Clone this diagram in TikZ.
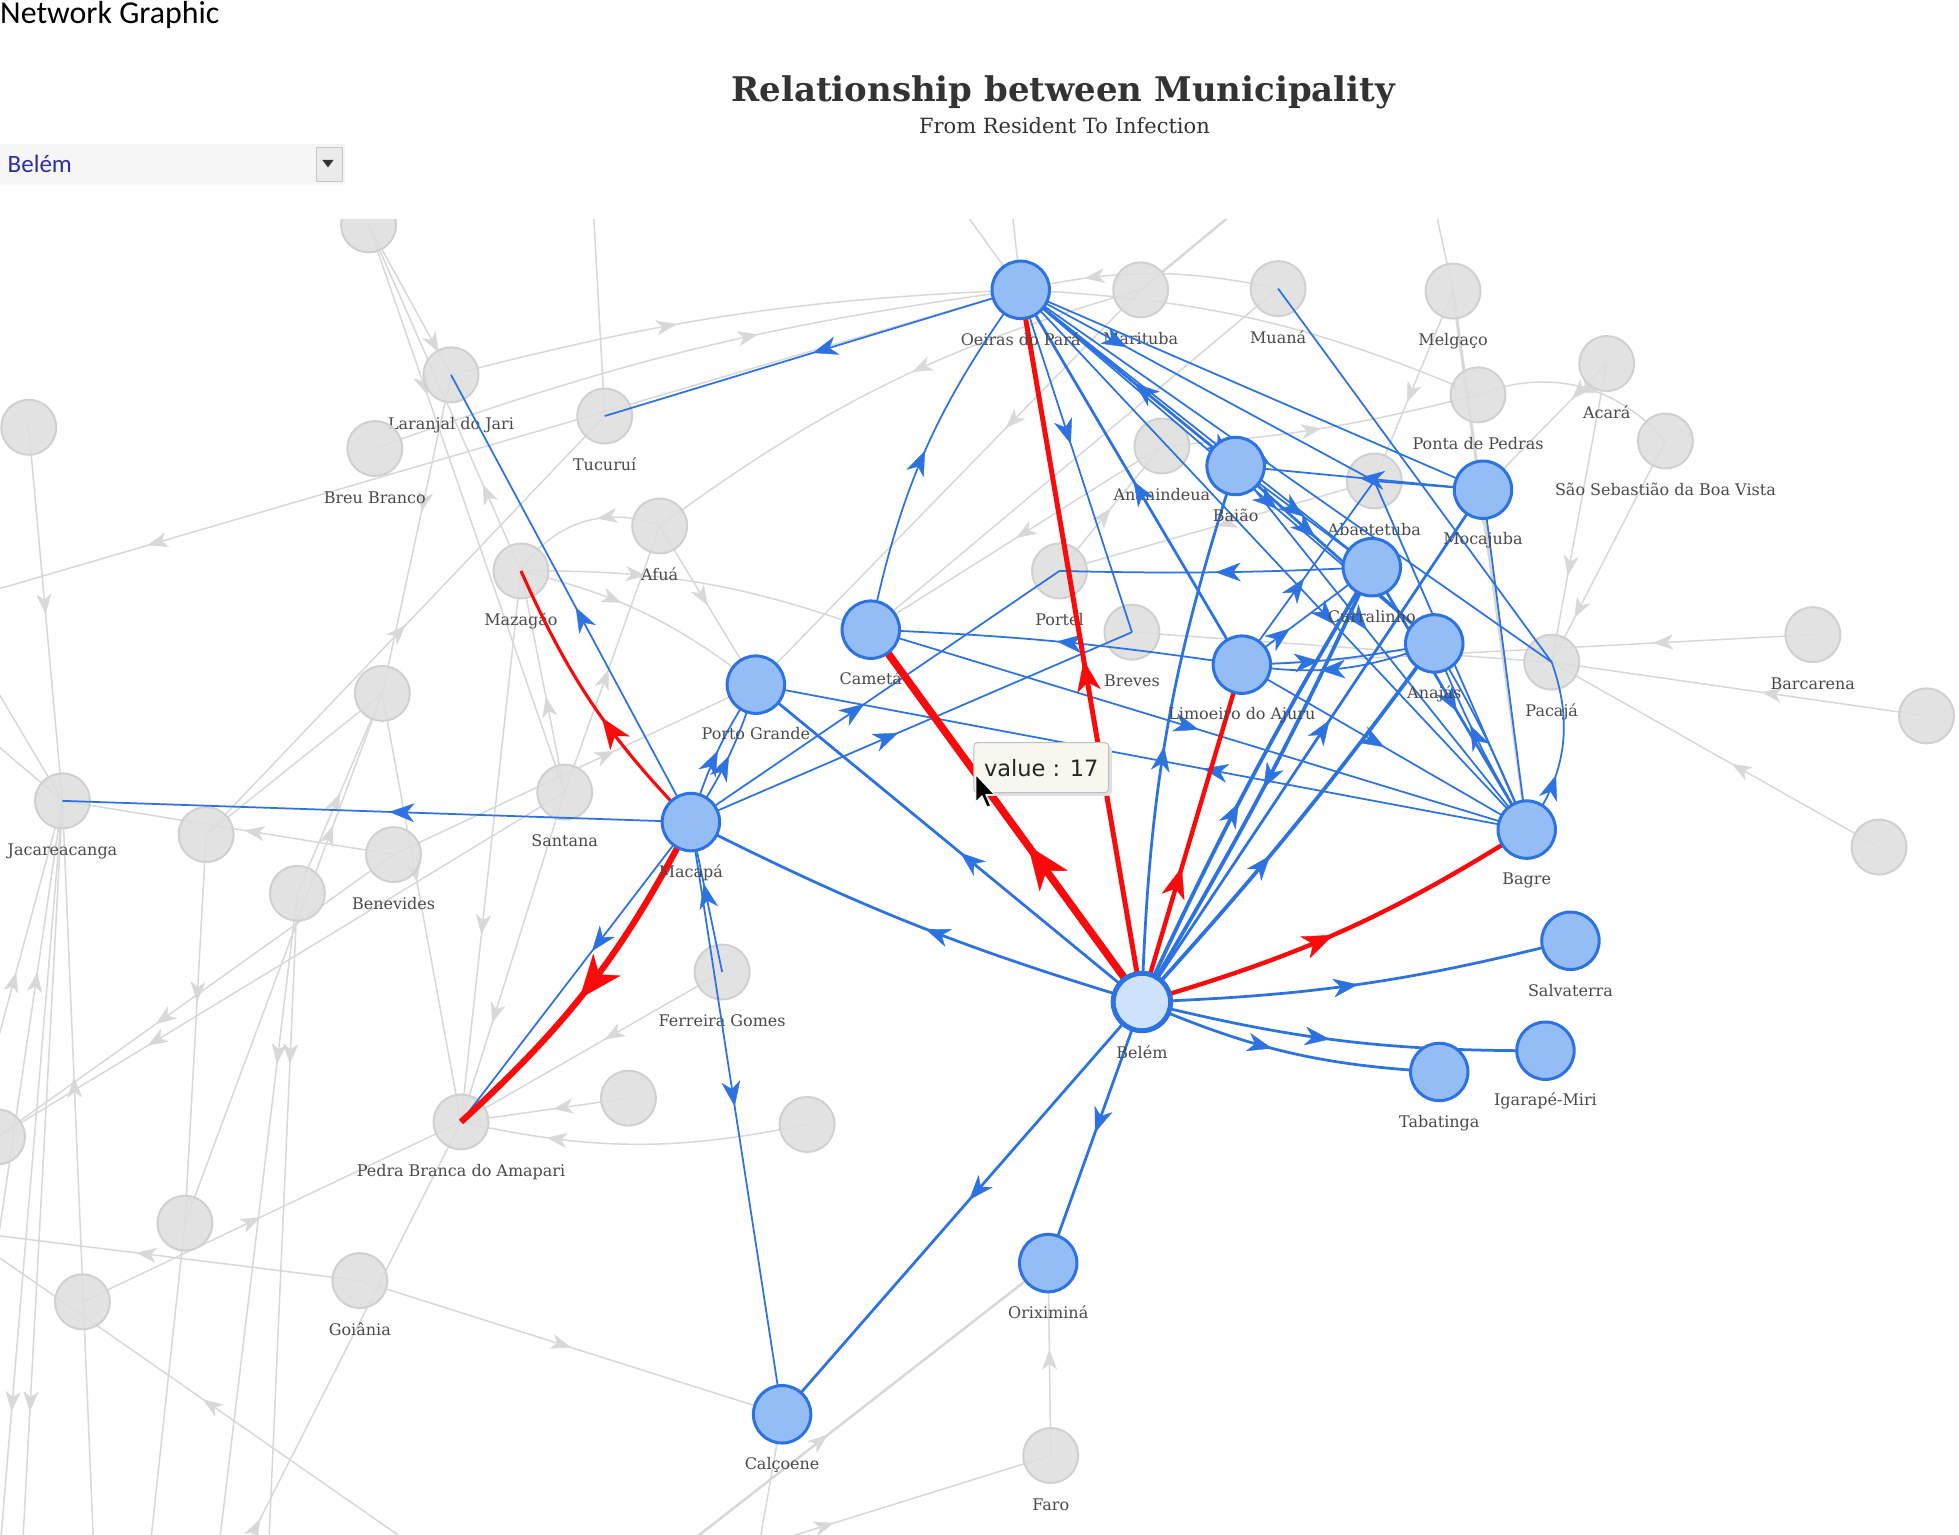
\documentclass[tikz,border=0pt]{standalone}
\usepackage{fontspec}
\setmainfont{DejaVu Serif}
\newfontfamily\hdrfont{Carlito}
\newfontfamily\tipfont{DejaVu Sans}
\usetikzlibrary{arrows.meta,decorations.markings}
\definecolor{eblue}{HTML}{2C73E1}
\definecolor{nblue}{HTML}{94BDF6}
\definecolor{hubfill}{HTML}{CFE2FB}
\definecolor{ered}{HTML}{FA0A0A}
\definecolor{egray}{HTML}{D8D8D8}
\definecolor{ngray}{HTML}{DEDEDE}
\definecolor{ngrayd}{HTML}{D0D0D0}
\definecolor{labc}{HTML}{4A4A4A}
\definecolor{titlec}{HTML}{333333}
\definecolor{ddtext}{HTML}{2E2E9E}
\definecolor{ddfill}{HTML}{F6F6F6}
\definecolor{tipfill}{HTML}{F8F7EE}
\pgfdeclarelayer{bgl}
\pgfdeclarelayer{gedges}
\pgfdeclarelayer{gnodes}
\pgfdeclarelayer{cedges}
\pgfsetlayers{bgl,gedges,gnodes,cedges,main}
\tikzset{
  gnode/.style={circle,minimum size=44pt,inner sep=0pt,fill=ngray,draw=ngrayd,line width=1.6pt,fill opacity=0.85},
  bnode/.style={circle,minimum size=46pt,inner sep=0pt,fill=nblue,draw=eblue,line width=2.4pt},
  hubnode/.style={circle,minimum size=46pt,inner sep=0pt,fill=hubfill,draw=eblue,line width=4pt},
  lab/.style={font=\fontsize{12.8}{14}\selectfont,text=labc,inner sep=0pt,anchor=base,text opacity=1,fill opacity=1,draw opacity=1},
  lbg/.style={label={[lab,label distance=21pt]below:#1}},
  lbb/.style={label={[lab,label distance=20pt]below:#1}},
  gline/.style={draw=egray,line width=1.2pt},
  garr/.style={postaction={decorate,decoration={markings,mark=at position #1 with {\arrow[egray]{Stealth[length=16pt,width=12pt,inset=4.5pt,line width=0.3pt]}}}}},
  garr/.default=0.5,
  bthin/.style={draw=eblue,line width=1.4pt},
  bmid/.style={draw=eblue,line width=2.2pt},
  bthick/.style={draw=eblue,line width=3pt},
  barr/.style={postaction={decorate,decoration={markings,mark=at position #1 with {\arrow[eblue]{Stealth[length=20pt,width=15pt,inset=6pt,line width=0.3pt]}}}}},
  barr/.default=0.5,
  rline/.style={draw=ered,line width=3.5pt},
  rarr/.style={postaction={decorate,decoration={markings,mark=at position #1 with {\arrow[ered]{Stealth[length=25pt,width=19pt,inset=7pt,line width=0.3pt]}}}}},
  rarr/.default=0.5,
  rarrbig/.style={postaction={decorate,decoration={markings,mark=at position #1 with {\arrow[ered]{Stealth[length=35pt,width=28pt,inset=10pt,line width=0.3pt]}}}}},
  rarrbig/.default=0.5,
}
\begin{document}
\begin{tikzpicture}[x=1pt,y=-1pt]
\useasboundingbox (0,0) rectangle (1568,1228);
\begin{pgfonlayer}{bgl}
\fill[white] (0,0) rectangle (1568,1228);
\end{pgfonlayer}

% ---------- header ----------
\node[anchor=base west,inner sep=0pt,font=\hdrfont\fontsize{25.5}{29}\selectfont] (hdr) at (0,19) {Network Graphic};
\node[anchor=base,inner sep=0pt,text=titlec,font=\bfseries\fontsize{27.2}{30}\selectfont] (title) at (851,81) {Relationship between Municipality};
\node[anchor=base,inner sep=0pt,text=titlec,font=\fontsize{16.8}{18}\selectfont] (subtitle) at (852,107) {From Resident To Infection};
\node[anchor=north west,inner sep=0pt,minimum width=276pt,minimum height=33pt,fill=ddfill] (dd) at (0,115) {};
\node[anchor=base west,inner sep=0pt,text=ddtext,font=\hdrfont\fontsize{20}{22}\selectfont] (ddtxt) at (6,138) {Belém};
\node[anchor=north west,inner sep=0pt,minimum width=21pt,minimum height=27pt,fill=black!8,draw=black!22,line width=0.8pt] (ddbtn) at (253,118) {};
\fill[black!80] (258,128) -- (267,128) -- (262.5,134) -- cycle;

% ---------- gray nodes ----------
\begin{pgfonlayer}{gnodes}
\begin{scope}
\clip (0,176) rectangle (1568,1228);
\node[gnode] (xtl) at (295,180) {};
\node[gnode] (xa) at (23,342) {};
\node[gnode,lbg={Laranjal do Jari}] (laranjal) at (361,300) {};
\node[gnode,lbg={Tucuruí}] (tucurui) at (484,333) {};
\node[gnode,lbg={Breu Branco}] (breu) at (300,359) {};
\node[gnode,lbg={Afuá}] (afua) at (528,421) {};
\node[gnode,lbg={Mazagão}] (mazagao) at (417,457) {};
\node[gnode] (xb) at (306,555) {};
\node[gnode,lbg={Jacareacanga}] (jacare) at (50,641) {};
\node[gnode,lbg={Santana}] (santana) at (452,634) {};
\node[gnode] (xc) at (165,668) {};
\node[gnode,lbg={Benevides}] (benevides) at (315,684) {};
\node[gnode] (xd) at (238,715) {};
\node[gnode,lbg={Ferreira Gomes}] (ferreira) at (578,778) {};
\node[gnode,lbg={Pedra Branca do Amapari}] (pedra) at (369,898) {};
\node[gnode] (xe) at (503,879) {};
\node[gnode] (xf) at (646,900) {};
\node[gnode] (xg) at (148,979) {};
\node[gnode,lbg={Goiânia}] (goiania) at (288,1025) {};
\node[gnode] (xh) at (66,1042) {};
\node[gnode] (xi) at (-2,910) {};
\node[gnode,lbg={Faro}] (faro) at (841,1165) {};
\node[gnode,lbg={Marituba}] (marituba) at (913,232) {};
\node[gnode,lbg={Muaná}] (muana) at (1023,231) {};
\node[gnode,lbg={Melgaço}] (melgaco) at (1163,233) {};
\node[gnode,lbg={Acará}] (acara) at (1286,291) {};
\node[gnode,lbg={Ponta de Pedras}] (ponta) at (1183,316) {};
\node[gnode,lbg={São Sebastião da Boa Vista}] (saoseb) at (1333,353) {};
\node[gnode,lbg={Ananindeua}] (ananindeua) at (930,357) {};
\node[gnode,lbg={Abaetetuba}] (abaete) at (1100,385) {};
\node[gnode,lbg={Portel}] (portel) at (848,457) {};
\node[gnode,lbg={Breves}] (breves) at (906,506) {};
\node[gnode,lbg={Pacajá}] (pacaja) at (1242,530) {};
\node[gnode,lbg={Barcarena}] (barcarena) at (1451,508) {};
\node[gnode] (xj) at (1542,573) {};
\node[gnode] (xk) at (1504,678) {};
\end{scope}
\end{pgfonlayer}

% ---------- highlighted nodes ----------
\node[bnode,lbb={Oeiras do Pará}] (oeiras) at (817,232) {};
\node[bnode,lbb={Baião}] (baiao) at (989,373) {};
\node[bnode,lbb={Mocajuba}] (mocajuba) at (1187,392) {};
\node[bnode,lbb={Curralinho}] (curralinho) at (1098,454) {};
\node[bnode,lbb={Anajás}] (anajas) at (1148,515) {};
\node[bnode,lbb={Limoeiro do Ajuru}] (limoeiro) at (994,532) {};
\node[bnode,lbb={Cametá}] (cameta) at (697,504) {};
\node[bnode,lbb={Porto Grande}] (porto) at (605,548) {};
\node[bnode,lbb={Macapá}] (macapa) at (553,658) {};
\node[bnode,lbb={Bagre}] (bagre) at (1222,664) {};
\node[bnode,lbb={Salvaterra}] (salvaterra) at (1257,753) {};
\node[bnode,lbb={Igarapé-Miri}] (igarape) at (1237,841) {};
\node[bnode,lbb={Tabatinga}] (tabatinga) at (1152,858) {};
\node[bnode,lbb={Oriximiná}] (oriximina) at (839,1011) {};
\node[bnode,lbb={Calçoene}] (calcoene) at (626,1132) {};
\node[hubnode,lbb={Belém}] (belem) at (914,802) {};

% off-screen ends
\coordinate (t1) at (765,160);
\coordinate (t2) at (808,150);
\coordinate (t3) at (1000,160);
\coordinate (t4) at (1145,150);
\coordinate (t5) at (474,150);
\coordinate (l1) at (-10,474);
\coordinate (l2) at (-10,540);
\coordinate (l3) at (-10,590);
\coordinate (l4) at (-10,988);
\coordinate (l5) at (-10,1000);
\coordinate (b1) at (-20,900);
\coordinate (b2) at (-10,1050);
\coordinate (b3) at (75,1240);
\coordinate (b4) at (335,1240);
\coordinate (b5) at (0,1240);
\coordinate (b6) at (18,1240);
\coordinate (b8) at (196,1240);
\coordinate (b9) at (175,1240);
\coordinate (b10) at (215,1240);
\coordinate (b11) at (545,1240);
\coordinate (b12) at (600,1240);
\coordinate (b13) at (607,1240);
\coordinate (b14) at (120,1240);

% ---------- gray edges ----------
\begin{pgfonlayer}{gedges}
\begin{scope}
\clip (0,176) rectangle (1568,1228);
\draw[gline] (t1) -- (oeiras.center);
\draw[gline] (t2) -- (oeiras.center);
\draw[gline,line width=2pt] (t3) -- (marituba.center);
\draw[gline,garr=0.45] (marituba.center) to[bend right=10] (afua.center);
\draw[gline,garr=0.2] (t4) -- (melgaco.center);
\draw[gline] (t5) -- (tucurui.center);
\draw[gline,garr=0.85] (xtl.center) -- (laranjal.center);
\draw[gline,garr=0.3] (xtl.center) -- (santana.center);
\draw[gline,garr=0.25] (mazagao.center) -- (xtl.center);
\draw[gline,garr=0.4] (laranjal.center) to[bend left=6] (oeiras.center);
\draw[gline,garr=0.6] (breu.center) to[bend left=6] (oeiras.center);
\draw[gline,garr=0.845] (oeiras.center) -- (l1);
\draw[gline,garr=0.5] (xa.center) -- (jacare.center);
\draw[gline] (jacare.center) -- (l2);
\draw[gline] (jacare.center) -- (l3);
\draw[gline,garr=0.47] (b1) -- (jacare.center);
\draw[gline,garr=0.665] (b2) -- (jacare.center);
\draw[gline,garr=0.63] (b3) -- (jacare.center);
\draw[gline,garr=0.816] (jacare.center) -- (b5);
\draw[gline,garr=0.816] (jacare.center) -- (b6);
\draw[gline,garr=0.45] (benevides.center) -- (jacare.center);
\draw[gline] (xc.center) -- (xb.center);
\draw[gline,garr=0.43] (xc.center) -- (xg.center);
\draw[gline,garr=0.5] (xc.center) -- (tucurui.center);
\draw[gline,garr=0.5] (xd.center) -- (xb.center);
\draw[gline,garr=0.75] (xg.center) -- (xb.center);
\draw[gline,garr=0.61] (benevides.center) -- (porto.center);
\draw[gline,garr=0.44] (xb.center) -- (pedra.center);
\draw[gline,garr=0.7] (santana.center) -- (pedra.center);
\draw[gline,garr=0.66] (mazagao.center) -- (pedra.center);
\draw[gline,garr=0.45] (ferreira.center) -- (pedra.center);
\draw[gline,garr=0.45] (xe.center) -- (pedra.center);
\draw[gline,garr=0.75] (xf.center) to[bend left=12] (pedra.center);
\draw[gline,garr=0.47] (xh.center) -- (pedra.center);
\draw[gline,garr=0.43] (santana.center) -- (mazagao.center);
\draw[gline,garr=0.46] (santana.center) -- (afua.center);
\draw[gline,garr=0.735] (santana.center) -- (xi.center);
\draw[gline,garr=0.6] (benevides.center) -- (xi.center);
\draw[gline,garr=0.26] (xd.center) -- (b9);
\draw[gline,garr=0.26] (xd.center) -- (b10);
\draw[gline,garr=0.4] (afua.center) to[bend right=40] (mazagao.center);
\draw[gline,garr=0.4] (mazagao.center) to[bend left=12] (porto.center);
\draw[gline,garr=0.35] (mazagao.center) to[bend left=10] (cameta.center);
\draw[gline,garr=0.5] (afua.center) -- (porto.center);
\draw[gline,garr=0.43] (laranjal.center) -- (xb.center);
\draw[gline,garr=0.35] (marituba.center) -- (porto.center);
\draw[gline,garr=0.5] (ananindeua.center) -- (cameta.center);
\draw[gline,garr=0.5] (portel.center) -- (ananindeua.center);
\draw[gline,garr=0.5] (ananindeua.center) to[bend right=5] (ponta.center);
\draw[gline] (cameta.center) -- (muana.center);
\draw[gline,garr=0.75] (muana.center) to[bend right=12] (oeiras.center);
\draw[gline] (oeiras.center) to[bend left=10] (ponta.center);
\draw[gline,garr=0.5] (abaete.center) -- (portel.center);
\draw[gline] (abaete.center) -- (bagre.center);
\draw[gline,line width=2.5pt,garr=0.44] (melgaco.center) -- (bagre.center);
\draw[gline,garr=0.585] (melgaco.center) -- (abaete.center);
\draw[gline,garr=0.6] (ponta.center) to[bend left=35] (saoseb.center);
\draw[gline,garr=0.71] (acara.center) -- (pacaja.center);
\draw[gline,garr=0.28] (acara.center) -- (mocajuba.center);
\draw[gline,garr=0.8] (saoseb.center) -- (pacaja.center);
\draw[gline,garr=0.28] (barcarena.center) -- (limoeiro.center);
\draw[gline,garr=0.44] (xj.center) -- (pacaja.center);
\draw[gline,garr=0.45] (xk.center) -- (pacaja.center);
\draw[gline] (pacaja.center) -- (breves.center);
\draw[gline,garr=0.5] (goiania.center) -- (calcoene.center);
\draw[gline,garr=0.6] (goiania.center) -- (l4);
\draw[gline,garr=0.5] (b4) -- (l5);
\draw[gline,garr=0.07] (b8) -- (pedra.center);
\draw[gline,line width=2pt,garr=0.4] (b11) -- (oriximina.center);
\draw[gline,garr=0.55] (faro.center) -- (oriximina.center);
\draw[gline,garr=0.28] (b12) -- (faro.center);
\draw[gline] (calcoene.center) -- (b13);
\draw[gline] (xg.center) -- (b14);
\end{scope}
\end{pgfonlayer}

% ---------- highlighted edges ----------
\begin{pgfonlayer}{cedges}
% from Belem
\draw[bmid,barr=0.47] (belem.center) to[bend left=5] (macapa.center);
\draw[bmid,barr=0.47] (belem.center) -- (porto.center);
\draw[bmid,barr=0.48] (belem.center) -- (calcoene.center);
\draw[bmid,barr=0.5] (belem.center) -- (oriximina.center);
\draw[bmid,barr=0.5] (belem.center) to[bend right=6] (salvaterra.center);
\draw[bmid,barr=0.47] (belem.center) to[bend right=7] (igarape.center);
\draw[bmid,barr=0.45] (belem.center) to[bend right=10] (tabatinga.center);
\draw[bmid,barr=0.47] (belem.center) to[bend left=8] (baiao.center);
\draw[bthick,barr=0.45] (belem.center) to[bend left=3] (curralinho.center);
\draw[bthick,barr=0.5] (curralinho.center) to[bend left=3] (belem.center);
\draw[bthick,barr=0.42] (belem.center) to[bend right=3] (anajas.center);
\draw[bmid,barr=0.55] (belem.center) -- (mocajuba.center);
% from Macapa
\draw[bthin,barr=0.48] (macapa.center) -- (jacare.center);
\draw[bthin,barr=0.48] (macapa.center) -- (laranjal.center);
\draw[bthin,barr=0.43] (macapa.center) -- (pedra.center);
\draw[bthin,barr=0.48] (macapa.center) -- (calcoene.center);
\draw[bthin,barr=0.59] (ferreira.center) -- (macapa.center);
\draw[bthin,barr=0.5] (macapa.center) to[bend left=8] (porto.center);
\draw[bthin,barr=0.5] (macapa.center) to[bend right=8] (porto.center);
\draw[bthin,barr=0.47] (macapa.center) -- (portel.center);
\draw[bthin,barr=0.47] (macapa.center) -- (breves.center);
% Cameta
\draw[bthin,barr=0.5] (cameta.center) to[bend left=12] (oeiras.center);
\draw[bthin,barr=0.5] (limoeiro.center) to[bend right=3] (cameta.center);
\draw[bthin,barr=0.5] (cameta.center) -- (bagre.center);
\draw[bthin,barr=0.42] (bagre.center) -- (porto.center);
% Oeiras fan
\draw[bthin,barr=0.5] (oeiras.center) -- (tucurui.center);
\draw[bthin,barr=0.45] (oeiras.center) -- (breves.center);
\draw[bmid,barr=0.47] (baiao.center) -- (oeiras.center);
\draw[bmid,barr=0.49] (limoeiro.center) -- (oeiras.center);
\draw[bthin,barr=0.6] (oeiras.center) -- (curralinho.center);
\draw[bthin,barr=0.62] (oeiras.center) -- (anajas.center);
\draw[bthin,barr=0.62] (oeiras.center) -- (bagre.center);
\draw[bthin,barr=0.47] (oeiras.center) -- (pacaja.center);
\draw[bthin,barr=0.3] (oeiras.center) -- (abaete.center);
\draw[bthin] (oeiras.center) -- (mocajuba.center);
% Baiao
\draw[bthin,barr=0.5] (mocajuba.center) -- (baiao.center);
\draw[bthin,barr=0.45] (baiao.center) -- (bagre.center);
\draw[bmid,barr=0.4] (baiao.center) -- (anajas.center);
\draw[bthin,barr=0.5] (baiao.center) -- (curralinho.center);
% Limoeiro
\draw[bthin,barr=0.37] (limoeiro.center) -- (curralinho.center);
\draw[bthin,barr=0.47] (limoeiro.center) -- (abaete.center);
\draw[bthin,barr=0.4] (limoeiro.center) to[bend right=5] (anajas.center);
\draw[bthin,barr=0.6] (anajas.center) to[bend left=15] (limoeiro.center);
\draw[bthin,barr=0.5] (limoeiro.center) -- (bagre.center);
% Curralinho, Anajas, Bagre
\draw[bthin,barr=0.5] (curralinho.center) to[bend left=2] (portel.center);
\draw[bmid,barr=0.55] (curralinho.center) -- (bagre.center);
\draw[bthin,barr=0.57] (bagre.center) to[bend left=4] (anajas.center);
\draw[bthin] (anajas.center) to[bend left=4] (bagre.center);
\draw[bthin] (mocajuba.center) -- (bagre.center);
\draw[bthin] (bagre.center) -- (abaete.center);
\draw[bthin,barr=0.35] (bagre.center) to[bend right=28] (pacaja.center);
\draw[bthin] (muana.center) -- (pacaja.center);
\draw[bthin] (mocajuba.center) -- (abaete.center);
% red edges
\draw[rline,line width=6pt,rarrbig=0.42] (belem.center) -- (cameta.center);
\draw[rline,line width=4pt,rarr=0.48] (belem.center) -- (oeiras.center);
\draw[rline,rarr=0.4] (belem.center) -- (limoeiro.center);
\draw[rline,rarr=0.48] (belem.center) to[bend right=8] (bagre.center);
\draw[rline,line width=5pt,rarrbig=0.55] (macapa.center) to[bend left=10] (pedra.center);
\draw[rline,line width=2.5pt,rarr=0.45] (macapa.center) to[bend left=10] (mazagao.center);
\end{pgfonlayer}

% ---------- tooltip ----------
\fill[black!12,rounded corners=3pt] (781,597) rectangle (890,637);
\node[anchor=north west,inner sep=0pt,minimum width=108pt,minimum height=40pt,rounded corners=3pt,fill=tipfill,draw=black!25,line width=0.8pt] (tip) at (779,594) {};
\node[inner sep=0pt,font=\tipfont\fontsize{18}{20}\selectfont,text=black!85] (tiptxt) at (tip.center) {value : 17};
\filldraw[fill=black,draw=white,line width=0.8pt,line join=round] (781,620) -- (781,642) -- (786,637) -- (790,646) -- (793,645) -- (789,636) -- (796,636) -- cycle;
\end{tikzpicture}
\end{document}
